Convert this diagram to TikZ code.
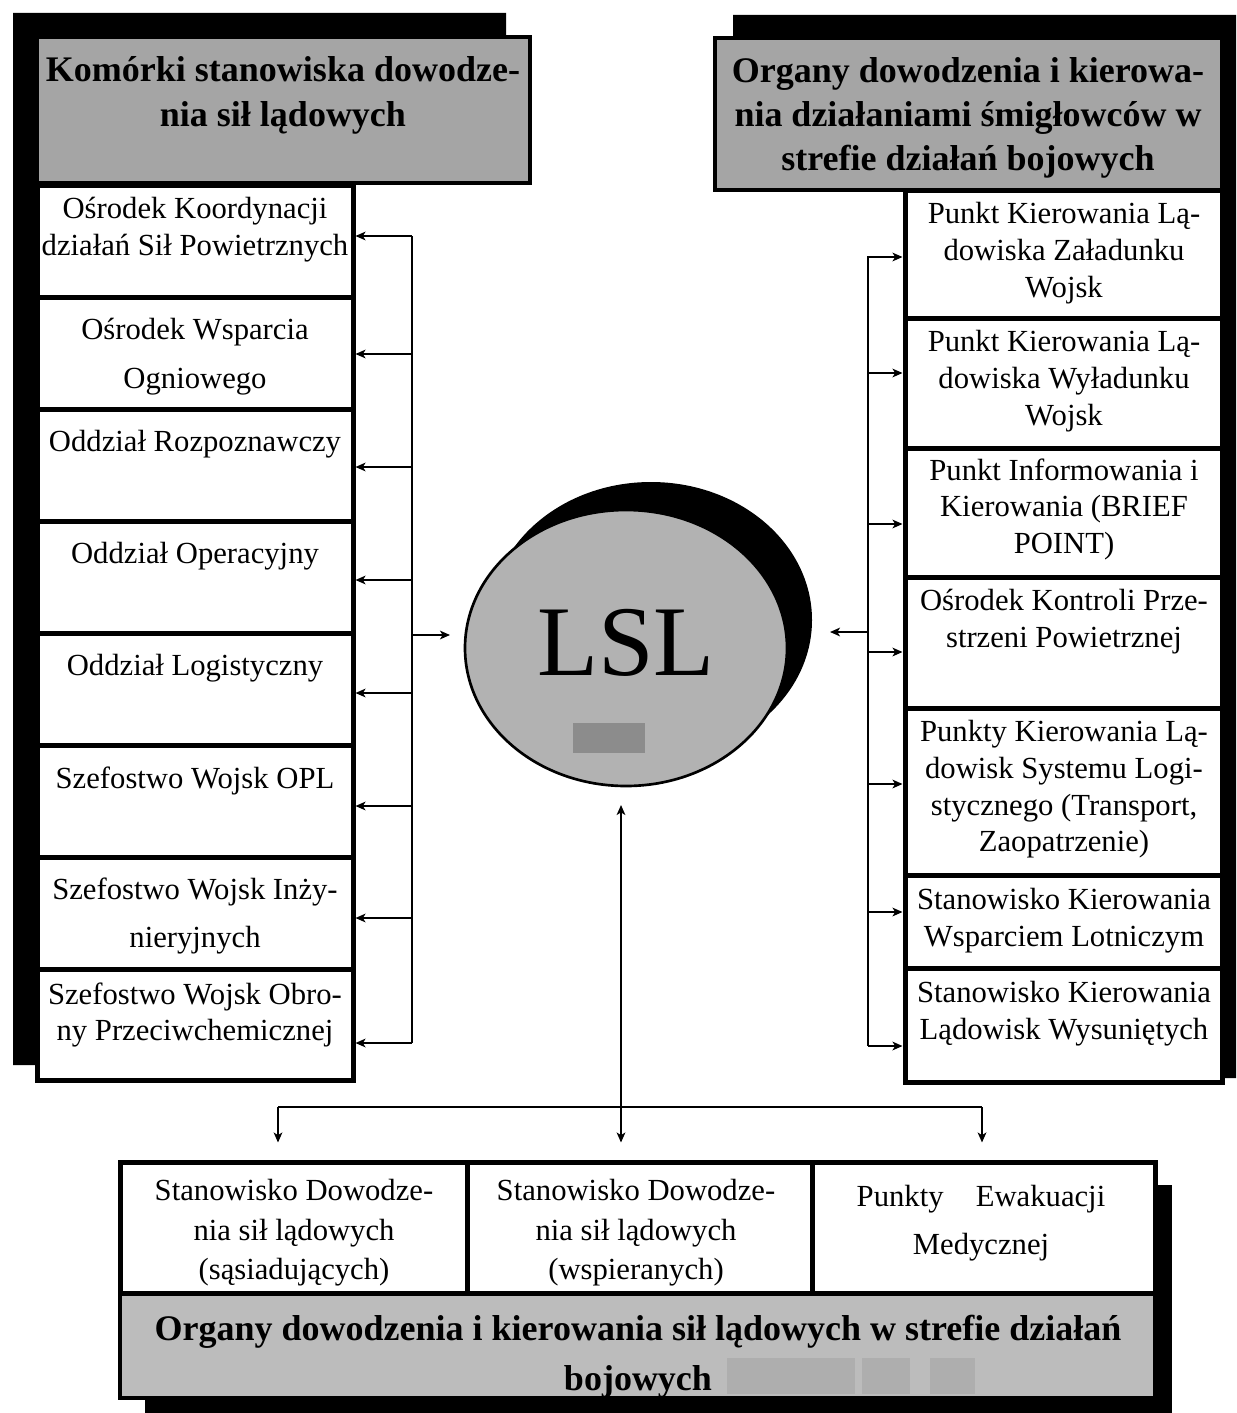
\documentclass[tikz,border=0pt]{standalone}
\usepackage{fontspec}
\setmainfont{Liberation Serif}
\usetikzlibrary{shapes.geometric,arrows.meta}

\definecolor{hdrgray}{RGB}{165,165,165}
\definecolor{discgray}{RGB}{178,178,178}
\definecolor{bandgray}{RGB}{188,188,188}
\definecolor{patchgray}{RGB}{174,174,174}
\definecolor{spotgray}{RGB}{140,140,140}

\tikzset{every picture/.style={line width=0.75pt}}
\tikzset{
  cell/.style={draw, line width=3.75pt, fill=white, inner sep=0pt},
  lcell/.style={cell, minimum width=237pt, minimum height=84pt},
  rcell/.style={cell, minimum width=237.75pt},
  bcell/.style={cell, minimum height=98.25pt},
  head/.style={draw, line width=3pt, fill=hdrgray, inner sep=0pt},
  txt/.style={anchor=north, inner sep=0pt, align=center, font=\fontsize{23}{27.5}\selectfont},
  headtxt/.style={anchor=north, inner sep=0pt, align=center, font=\fontsize{27}{33}\selectfont\bfseries},
  link/.style={line width=1.5pt},
  >={Stealth[length=7.5pt,width=6.5pt,inset=2pt]}
}

\begin{document}
\begin{tikzpicture}[x=0.75pt,y=0.75pt,yscale=-1,xscale=1]
	\useasboundingbox (0,0) rectangle (1236,1413);

	%Shadows
	\fill (13,13) -- (506,13) -- (506,159) -- (329,159) -- (329,1065) -- (13,1065) -- cycle ;
	\fill (733,15) -- (1236,15) -- (1236,1078) -- (923,1078) -- (923,167) -- (733,167) -- cycle ;
	\fill (145,1185) rectangle (1172,1413) ;

	%Left column
	\node[head, minimum width=369.75pt, minimum height=109.5pt] (hdrL) at (283.5,110) {};
	\node[headtxt] (hdrLt) at (283,56) {Komórki stanowiska dowodze-\\[1pt]nia sił lądowych};
	\node[lcell] (L1) at (195,241) {};
	\node[lcell] (L2) at (195,353) {};
	\node[lcell] (L3) at (195,465) {};
	\node[lcell] (L4) at (195,577) {};
	\node[lcell] (L5) at (195,689) {};
	\node[lcell] (L6) at (195,801) {};
	\node[lcell] (L7) at (195,913) {};
	\node[lcell, minimum height=83.25pt] (L8) at (195,1024.5) {};
	\node[txt] (L1t) at (195,197) {Ośrodek Koordynacji\\działań Sił Powietrznych};
	\node[txt] (L2t) at (195,318) {Ośrodek Wsparcia\\[9pt]Ogniowego};
	\node[txt] (L3t) at (195,430) {Oddział Rozpoznawczy};
	\node[txt] (L4t) at (195,542) {Oddział Operacyjny};
	\node[txt] (L5t) at (195,654) {Oddział Logistyczny};
	\node[txt] (L6t) at (195,766) {Szefostwo Wojsk OPL};
	\node[txt] (L7t) at (195,877) {Szefostwo Wojsk Inży-\\[9pt]nieryjnych};
	\node[txt] (L8t) at (195,982) {Szefostwo Wojsk Obro-\\ny Przeciwchemicznej};

	%Right column
	\node[head, minimum width=380.25pt, minimum height=114pt] (hdrR) at (968.5,114) {};
	\node[headtxt] (hdrRt) at (968,57) {Organy dowodzenia i kierowa-\\nia działaniami śmigłowców w\\strefie działań bojowych};
	\node[rcell, minimum height=96pt] (R1) at (1063.5,254) {};
	\node[rcell, minimum height=97.5pt] (R2) at (1063.5,383) {};
	\node[rcell, minimum height=96.75pt] (R3) at (1063.5,512.5) {};
	\node[rcell, minimum height=98.25pt] (R4) at (1063.5,642.5) {};
	\node[rcell, minimum height=125.25pt] (R5) at (1063.5,791.5) {};
	\node[rcell, minimum height=69.75pt] (R6) at (1063.5,921.5) {};
	\node[rcell, minimum height=85.5pt] (R7) at (1063.5,1025) {};
	\node[txt] (R1t) at (1064,202) {Punkt Kierowania Lą-\\dowiska Załadunku\\Wojsk};
	\node[txt] (R2t) at (1064,330) {Punkt Kierowania Lą-\\dowiska Wyładunku\\Wojsk};
	\node[txt] (R3t) at (1064,458) {Punkt Informowania i\\Kierowania (BRIEF\\POINT)};
	\node[txt] (R4t) at (1064,589) {Ośrodek Kontroli Prze-\\strzeni Powietrznej};
	\node[txt] (R5t) at (1064,720) {Punkty Kierowania Lą-\\dowisk Systemu Logi-\\stycznego (Transport,\\Zaopatrzenie)};
	\node[txt] (R6t) at (1064,888) {Stanowisko Kierowania\\Wsparciem Lotniczym};
	\node[txt] (R7t) at (1064,981) {Stanowisko Kierowania\\Lądowisk Wysuniętych};

	%Bottom row
	\node[head, fill=bandgray, minimum width=776.25pt, minimum height=78.75pt] (band) at (637.5,1345.5) {};
	\fill[patchgray] (727,1358) rectangle (855,1394) ;
	\fill[patchgray] (862,1358) rectangle (910,1394) ;
	\fill[patchgray] (930,1358) rectangle (975,1394) ;
	\node[headtxt] (bandt) at (638,1315) {Organy dowodzenia i kierowania sił lądowych w strefie działań\\[4.5pt]bojowych};
	\node[bcell, minimum width=260.25pt] (B1) at (293.5,1227.5) {};
	\node[bcell, minimum width=258.75pt] (B2) at (639.5,1227.5) {};
	\node[bcell, minimum width=257.25pt] (B3) at (983.5,1227.5) {};
	\node[txt] (B1t) at (294,1179) {Stanowisko Dowodze-\\[2pt]nia sił lądowych\\[2pt](sąsiadujących)};
	\node[txt] (B2t) at (636,1179) {Stanowisko Dowodze-\\[2pt]nia sił lądowych\\[2pt](wspieranych)};
	\node[txt] (B3t) at (981,1185) {Punkty\hspace{0.8em} Ewakuacji\\[8pt]Medycznej};

	%LSL
	\node[ellipse, fill=black, inner sep=0pt, minimum width=241.5pt, minimum height=207pt] (lslsh) at (651,620) {};
	\node[ellipse, draw, line width=2pt, fill=discgray, inner sep=0pt, minimum width=241.5pt, minimum height=207pt, text depth=8pt, font=\fontsize{75}{80}\selectfont] (lsl) at (626,648) {LSL};
	\fill[spotgray] (573,723) rectangle (645,753) ;

	%Connectors
	\coordinate (lbusT) at (412,236);
	\coordinate (lbusB) at (412,1043);
	\coordinate (rbusT) at (868,256);
	\coordinate (rbusB) at (868,1046);
	\coordinate (lin) at (450,635);
	\coordinate (rin) at (830,632);
	\coordinate (bin) at (621,805);
	\coordinate (bl) at (278,1107);
	\coordinate (br) at (982,1107);
	\draw[link] (lbusT) -- (lbusB) ;
	\draw[link] (rbusT) -- (rbusB) ;
	\foreach \k/\y in {1/236,2/354,3/467,4/580,5/693,6/806,7/918,8/1043} {
		\coordinate (p) at (412,\y);
		\draw[link,->] (p) -- (p -| L\k.east) ;
	}
	\foreach \k/\y in {1/257,2/373,3/524,4/652,5/784,6/912,7/1046} {
		\coordinate (p) at (868,\y);
		\draw[link,->] (p) -- (p -| R\k.west) ;
	}
	\draw[link,->] (lbusT |- lin) -- (lin) ;
	\draw[link,->] (rbusT |- rin) -- (rin) ;
	\draw[link] (bl) -- (br) ;
	\draw[link,<->,shorten >=12.75pt] (bin) -- (bin |- B2.north) ;
	\draw[link,->,shorten >=12.75pt] (bl) -- (bl |- B1.north) ;
	\draw[link,->,shorten >=12.75pt] (br) -- (br |- B3.north) ;

\end{tikzpicture}
\end{document}
